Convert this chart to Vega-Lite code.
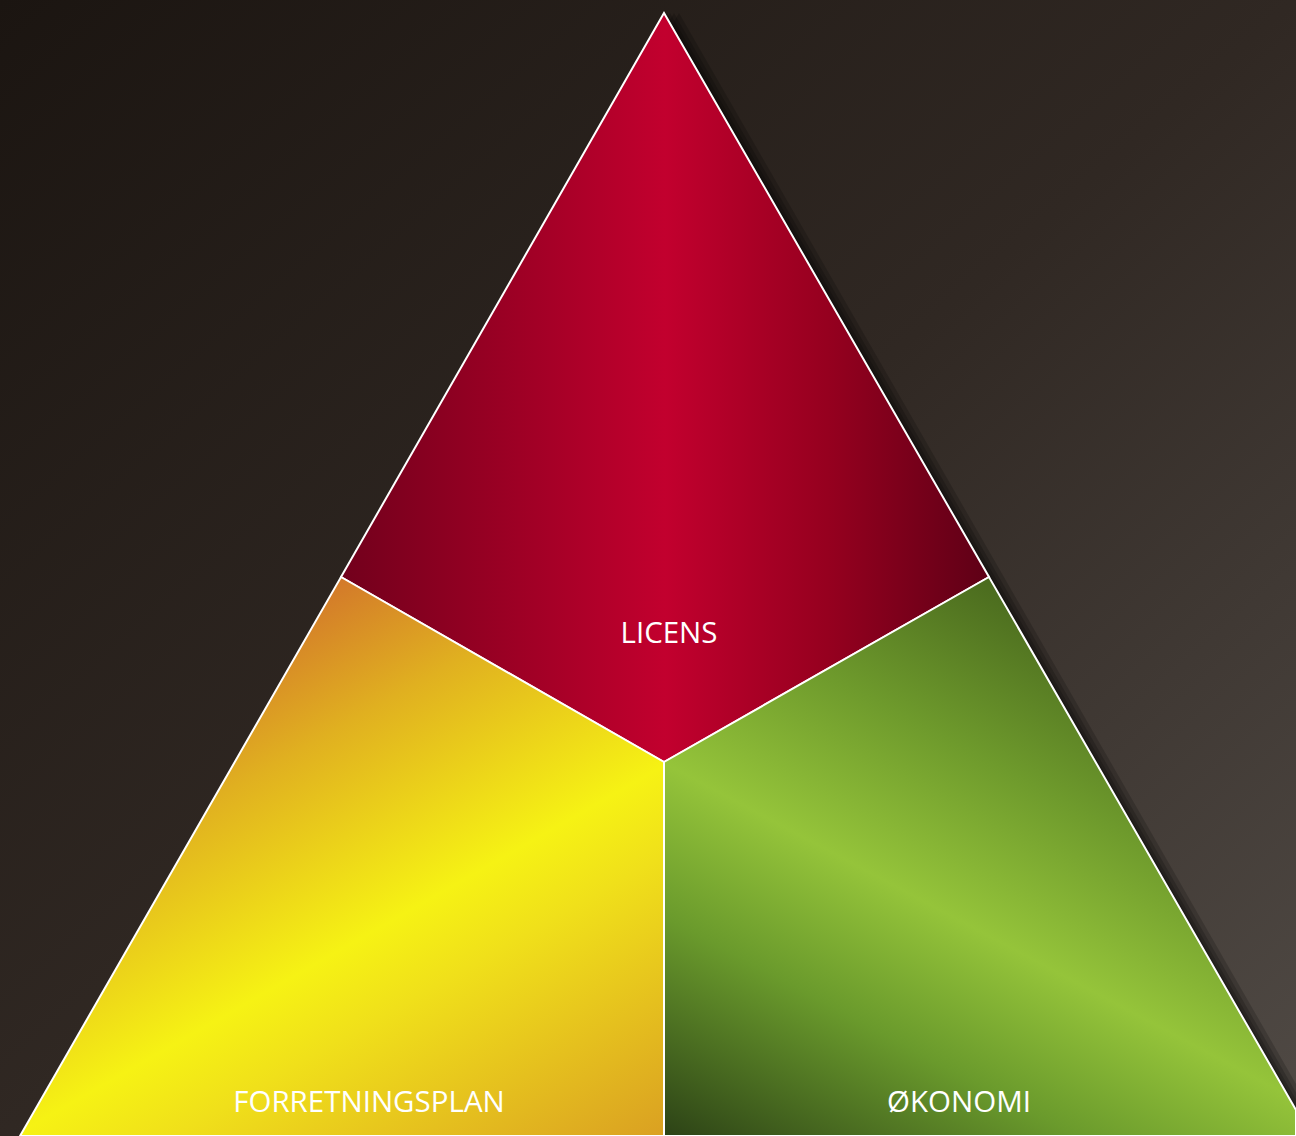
{
  "$schema": "https://vega.github.io/schema/vega-lite/v6.json",
  "width": 1296,
  "height": 1136,
  "padding": 0,
  "autosize": {"type": "none"},
  "config": {"view": {"stroke": null}},
  "datasets": {
    "bg": [{"x": 0, "x2": 1296, "y": 0, "y2": 1136}],
    "shadow": [
      {"shift": 3, "x": 23, "y": 1136, "y2": 1136},
      {"shift": 3, "x": 667, "y": 13, "y2": 1136},
      {"shift": 3, "x": 1314, "y": 1136, "y2": 1136},
      {"shift": 6, "x": 26, "y": 1136, "y2": 1136},
      {"shift": 6, "x": 670, "y": 13, "y2": 1136},
      {"shift": 6, "x": 1317, "y": 1136, "y2": 1136},
      {"shift": 10, "x": 30, "y": 1136, "y2": 1136},
      {"shift": 10, "x": 674, "y": 13, "y2": 1136},
      {"shift": 10, "x": 1321, "y": 1136, "y2": 1136},
      {"shift": 15, "x": 35, "y": 1136, "y2": 1136},
      {"shift": 15, "x": 679, "y": 13, "y2": 1136},
      {"shift": 15, "x": 1326, "y": 1136, "y2": 1136}
    ],
    "licens": [
      {"x": 341, "y": 577, "y2": 577},
      {"x": 664, "y": 13, "y2": 762},
      {"x": 989, "y": 577, "y2": 577}
    ],
    "plan": [
      {"x": 20, "y": 1136, "y2": 1136},
      {"x": 341, "y": 577, "y2": 1136},
      {"x": 664, "y": 762, "y2": 1136}
    ],
    "okonomi": [
      {"x": 664, "y": 762, "y2": 1136},
      {"x": 989, "y": 577, "y2": 1136},
      {"x": 1296, "y": 1110, "y2": 1136}
    ],
    "labels": [
      {"label": "LICENS", "x": 669, "y": 643},
      {"label": "FORRETNINGSPLAN", "x": 369, "y": 1112},
      {"label": "ØKONOMI", "x": 959, "y": 1112}
    ]
  },
  "layer": [
    {
      "data": {"name": "bg"},
      "mark": {
        "type": "rect",
        "fill": {
          "gradient": "linear", "x1": 0, "y1": 0, "x2": 1, "y2": 1,
          "stops": [
            {"offset": 0, "color": "#1b1511"},
            {"offset": 0.5, "color": "#302823"},
            {"offset": 1, "color": "#504a45"}
          ]
        }
      },
      "encoding": {
        "x": {"field": "x", "type": "quantitative", "scale": {"domain": [0, 1296], "nice": false, "zero": false}, "axis": null},
        "x2": {"field": "x2"},
        "y": {"field": "y", "type": "quantitative", "scale": {"domain": [0, 1136], "nice": false, "zero": false, "reverse": true}, "axis": null},
        "y2": {"field": "y2"}
      }
    },
    {
      "data": {"name": "shadow"},
      "mark": {"type": "area", "color": "#000000", "opacity": 0.18, "clip": true},
      "encoding": {
        "x": {"field": "x", "type": "quantitative"},
        "y": {"field": "y", "type": "quantitative"},
        "y2": {"field": "y2"},
        "detail": {"field": "shift", "type": "nominal"}
      }
    },
    {
      "data": {"name": "licens"},
      "mark": {
        "type": "area", "stroke": "#ffffff", "strokeWidth": 2, "strokeJoin": "miter", "clip": true,
        "fill": {
          "gradient": "linear", "x1": 0, "y1": 0, "x2": 1, "y2": 0,
          "stops": [
            {"offset": 0, "color": "#72001c"},
            {"offset": 0.25, "color": "#9a0024"},
            {"offset": 0.5, "color": "#c2002e"},
            {"offset": 0.75, "color": "#96001f"},
            {"offset": 1, "color": "#5e0016"}
          ]
        }
      },
      "encoding": {
        "x": {"field": "x", "type": "quantitative"},
        "y": {"field": "y", "type": "quantitative"},
        "y2": {"field": "y2"}
      }
    },
    {
      "data": {"name": "plan"},
      "mark": {
        "type": "area", "stroke": "#ffffff", "strokeWidth": 2, "strokeJoin": "miter", "clip": true,
        "fill": {
          "gradient": "linear", "x1": 0.5, "y1": 0, "x2": 1.11, "y2": 0.93,
          "stops": [
            {"offset": 0, "color": "#d3792a"},
            {"offset": 0.2, "color": "#e0b020"},
            {"offset": 0.5, "color": "#f6f214"},
            {"offset": 0.62, "color": "#f0e01a"},
            {"offset": 1, "color": "#daa022"}
          ]
        }
      },
      "encoding": {
        "x": {"field": "x", "type": "quantitative"},
        "y": {"field": "y", "type": "quantitative"},
        "y2": {"field": "y2"}
      }
    },
    {
      "data": {"name": "okonomi"},
      "mark": {
        "type": "area", "stroke": "#ffffff", "strokeWidth": 2, "strokeJoin": "miter", "clip": true,
        "fill": {
          "gradient": "linear", "x1": 0.514, "y1": 0, "x2": -0.065, "y2": 0.962,
          "stops": [
            {"offset": 0, "color": "#4a6a1e"},
            {"offset": 0.25, "color": "#6e9a2c"},
            {"offset": 0.49, "color": "#95c43a"},
            {"offset": 0.7, "color": "#6a9a2c"},
            {"offset": 1, "color": "#2c4216"}
          ]
        }
      },
      "encoding": {
        "x": {"field": "x", "type": "quantitative"},
        "y": {"field": "y", "type": "quantitative"},
        "y2": {"field": "y2"}
      }
    },
    {
      "data": {"name": "labels"},
      "mark": {"type": "text", "font": "Open Sans", "fontSize": 29.5, "color": "#ffffff", "align": "center", "baseline": "alphabetic"},
      "encoding": {
        "x": {"field": "x", "type": "quantitative"},
        "y": {"field": "y", "type": "quantitative"},
        "text": {"field": "label"}
      }
    }
  ]
}
